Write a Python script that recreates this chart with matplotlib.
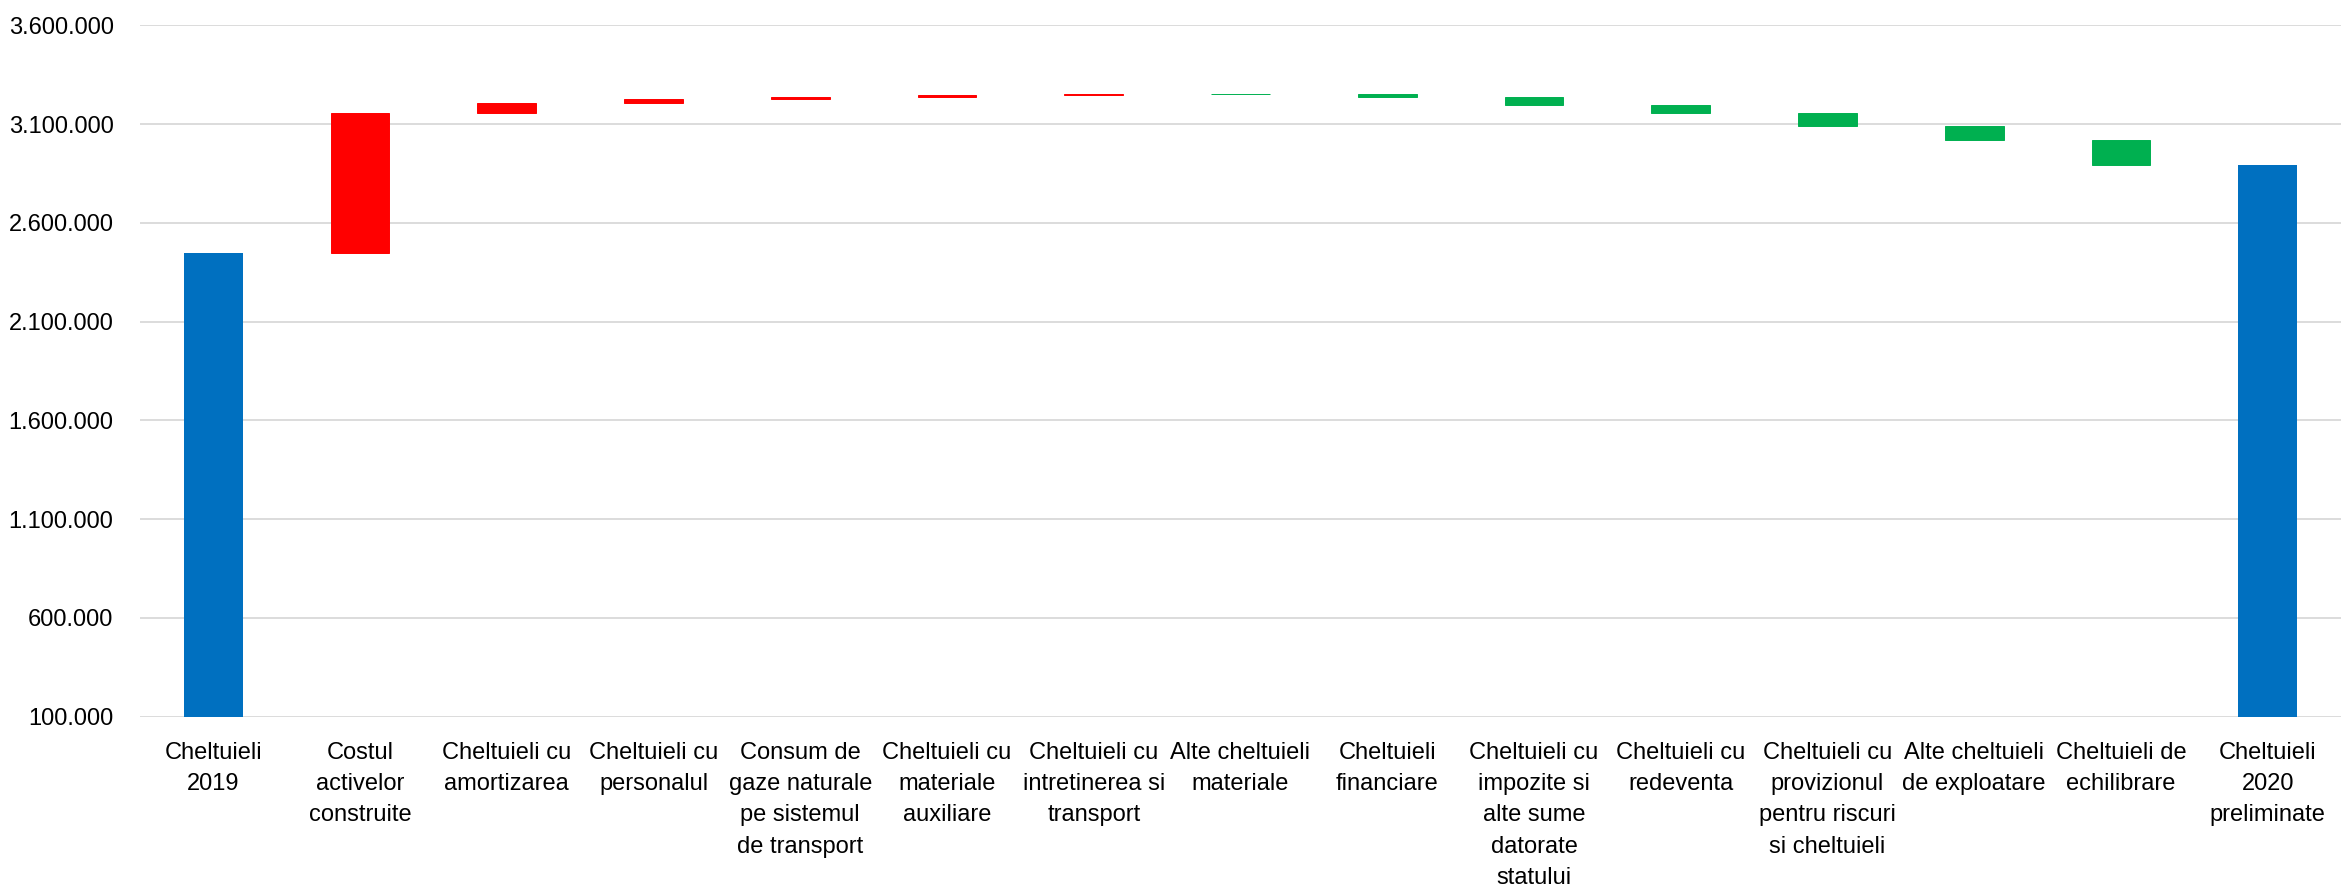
import matplotlib.pyplot as plt
from matplotlib.ticker import FuncFormatter

plt.rcParams['font.family'] = ['Liberation Sans', 'DejaVu Sans']

labels = [
    'Cheltuieli\n2019',
    'Costul\nactivelor\nconstruite',
    'Cheltuieli cu\namortizarea',
    'Cheltuieli cu\npersonalul',
    'Consum de\ngaze naturale\npe sistemul\nde transport',
    'Cheltuieli cu\nmateriale\nauxiliare',
    'Cheltuieli cu\nintretinerea si\ntransport',
    'Alte cheltuieli\nmateriale',
    'Cheltuieli\nfinanciare',
    'Cheltuieli cu\nimpozite si\nalte sume\ndatorate\nstatului',
    'Cheltuieli cu\nredeventa',
    'Cheltuieli cu\nprovizionul\npentru riscuri\nsi cheltuieli',
    'Alte cheltuieli\nde exploatare',
    'Cheltuieli de\nechilibrare',
    'Cheltuieli\n2020\npreliminate',
]
start_total = 2446000
# changes between the two totals (positive = increase, negative = decrease)
deltas = [708000, 54000, 17000, 12000, 10000, 7000,
          -3000, -12000, -40000, -45000, -66000, -71000, -126000]
end_total = 2891000
yticks = [100000, 600000, 1100000, 1600000, 2100000, 2600000, 3100000, 3600000]

blue = '#0070C0'
red = '#FF0000'
green = '#00B050'

fig = plt.figure(figsize=(23.41, 8.92), dpi=100)
ax = fig.add_axes([140 / 2341, 1 - 716.7 / 892, 2201 / 2341, (716.7 - 25.3) / 892])

ax.bar(0, start_total, width=0.4, color=blue)
level = start_total
for i, d in enumerate(deltas, start=1):
    c = red if d >= 0 else green
    ax.bar(i, abs(d), bottom=min(level, level + d), width=0.4,
           color=c, edgecolor=c, linewidth=0.7)
    level += d
ax.bar(len(labels) - 1, end_total, width=0.4, color=blue)

ax.set_ylim(yticks[0], yticks[-1])
ax.set_xlim(-0.5, len(labels) - 0.5)
ax.set_yticks(yticks)
ax.yaxis.set_major_formatter(FuncFormatter(lambda v, p: f'{int(v):,}'.replace(',', '.')))
ax.grid(axis='y', color='#D9D9D9', linewidth=1.3)
ax.set_axisbelow(True)
for s in ax.spines.values():
    s.set_visible(False)

ax.set_xticks(range(len(labels)))
ax.set_xticklabels(labels, fontsize=17, linespacing=1.55, color='#000000')
ax.tick_params(axis='x', length=0, pad=18)
ax.tick_params(axis='y', length=0, pad=19, labelsize=17, labelcolor='#000000')

fig.savefig('out.png', dpi=100)
